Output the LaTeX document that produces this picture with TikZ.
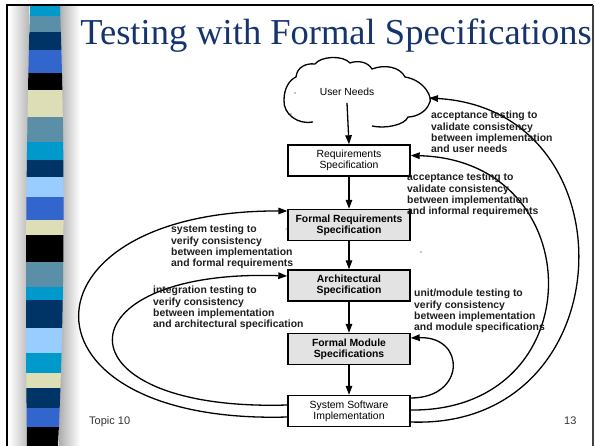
\documentclass[tikz,border=0pt]{standalone}
\usepackage{fontspec}
\setmainfont{Liberation Sans}
\newfontfamily\titlefont{Liberation Serif}
\usetikzlibrary{arrows.meta,calc}

\definecolor{titleblue}{RGB}{22,52,108}
\definecolor{stcyan}{HTML}{0099CC}
\definecolor{ststeel}{HTML}{5B8FA8}
\definecolor{stnavy}{HTML}{003366}
\definecolor{stroyal}{HTML}{3366CC}
\definecolor{stbeige}{HTML}{DEDEB6}
\definecolor{stlight}{HTML}{99CCFF}
\definecolor{labelgray}{HTML}{1E1E1E}

\begin{document}
\begin{tikzpicture}[x=1pt,y=-1pt,
  box/.style={draw, line width=1.4pt, minimum width=122pt, minimum height=31pt,
    inner sep=0pt, align=center, fill=white, font=\fontsize{10.4}{11.2}\selectfont},
  specbox/.style={box, fill=black!11, font=\bfseries\fontsize{10.4}{11.2}\selectfont},
  flow/.style={line width=1.3pt, -{Triangle[length=9pt,width=6.5pt]}},
  note/.style={anchor=north west, inner sep=0pt, align=left, text=labelgray,
    font=\bfseries\fontsize{10.4}{11.3}\selectfont},
  foot/.style={inner sep=0pt, text=black!80, font=\fontsize{11}{13}\selectfont}]
\useasboundingbox (0,0) rectangle (596,446);
\fill[white] (0,0) rectangle (596,446);

% shaded band behind the coloured stripe
\shade[left color=white, right color=black!28] (9,6) rectangle (29,446);
\shade[left color=black!32, right color=white] (59,6) rectangle (80,446);

% coloured stripe
\begin{scope}
  \clip (30,6) .. controls (26,150) and (25,300) .. (27,446) -- (58,446)
        .. controls (65,300) and (65,150) .. (60,6) -- cycle;
  \foreach \a/\b/\c in {6/16/stcyan, 16/32/ststeel, 32/50/stnavy, 50/73/stroyal,
      73/90/black, 90/117/stbeige, 117/142/ststeel, 142/160/stcyan, 160/177/stnavy,
      177/197/stlight, 197/220/stroyal, 220/235/stbeige, 235/262/black,
      262/287/ststeel, 287/300/stcyan, 300/328/stnavy, 328/353/stlight,
      353/373/stcyan, 373/388/stbeige, 388/408/stnavy, 408/427/stroyal, 427/446/black}
    \fill[\c] (20,\a) rectangle (70,\b);
\end{scope}

% slide frame
\draw[line width=2.5pt] (7.2,446) -- (7.2,5.2) -- (593,5.2);
\draw[line width=1.5pt, black!75] (593,5.2) -- (593,446);

% title
\node[font=\titlefont\fontsize{36.5}{40}\selectfont, text=titleblue, anchor=base, inner sep=0pt]
  (title) at (336,44.5) {Testing with Formal Specifications};

% cloud
\draw[line width=1.3pt]
  (313,122) .. controls (298,125) and (283,114) .. (284,100)
  .. controls (284,89) and (289,80) .. (296,77)
  .. controls (297,67) and (306,63) .. (315,64)
  .. controls (321,56) and (343,55) .. (350,63)
  .. controls (358,60) and (368,62) .. (372,69)
  .. controls (385,64) and (400,67) .. (405,77)
  .. controls (424,80) and (434,98) .. (429,104)
  .. controls (426,112) and (416,117) .. (408,117)
  .. controls (405,125) and (385,129) .. (372,126);
\coordinate (cloudtip) at (429,98);
\node[font=\fontsize{10.3}{12}\selectfont, inner sep=1pt] (needs) at (347,92) {User Needs};
\fill (295,93) circle (0.7) (291,114) circle (0.7);

% specification chain
\node[box]      (req)  at (349,160.5) {Requirements\\Specification};
\node[specbox]  (freq) at (349,225)   {Formal Requirements\\Specification};
\node[specbox]  (arch) at (349,285.5) {Architectural\\Specification};
\node[specbox]  (fmod) at (349,349)   {Formal Module\\Specifications};
\node[box]      (impl) at (349,411)   {System Software\\Implementation};
\fill (421,252) circle (0.6) (286,229) circle (0.5);

\draw[flow] ([yshift=-6pt]needs.south) -- (req.north);
\draw[flow] (req) -- (freq);
\draw[flow] (freq) -- (arch);
\draw[flow] (arch) -- (fmod);
\draw[flow] (fmod) -- (impl);

% test feedback loops
\draw[flow] ([yshift=-11pt]impl.east) .. controls (625,430) and (635,110) .. (cloudtip);
\draw[flow] ([yshift=1pt]impl.east) .. controls (594,412) and (592,160) .. ([yshift=5pt]req.east);
\draw[flow] ([yshift=13pt]impl.east) .. controls (466,398) and (466,336) .. ([yshift=11pt]fmod.east);
\draw[flow] ([yshift=-6pt]impl.west) .. controls (8,425) and (13,210) .. ([yshift=14pt]freq.west);
\draw[flow] ([yshift=6pt]impl.west) .. controls (53,412) and (58,268) .. ([yshift=9.5pt]arch.west);

% loop labels
\node[note] (lbl-user) at (431,111) {acceptance testing to\\validate consistency\\between implementation\\and user needs};
\node[note] (lbl-req)  at (407,173) {acceptance testing to\\validate consistency\\between implementation\\and informal requirements};
\node[note] (lbl-sys)  at (171,225) {system testing to\\verify consistency\\between implementation\\and formal requirements};
\node[note] (lbl-int)  at (153,286) {integration testing to\\verify consistency\\between implementation\\and architectural specification};
\node[note] (lbl-unit) at (414,289) {unit/module testing to\\verify consistency\\between implementation\\and module specifications};

% footer
\node[foot, anchor=base west] (topic) at (89,424) {Topic 10};
\node[foot, anchor=base west] (page) at (564,424) {13};
\end{tikzpicture}
\end{document}
